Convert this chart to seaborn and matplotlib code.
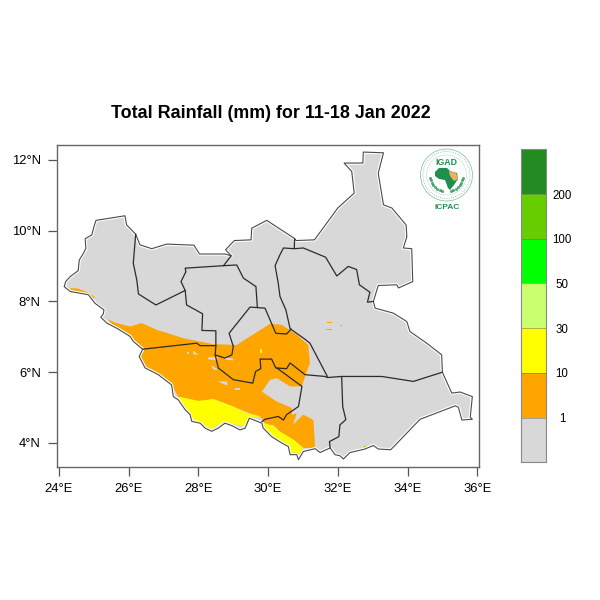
import numpy as np
import matplotlib
matplotlib.use('Agg')
import matplotlib.pyplot as plt
from matplotlib.colors import ListedColormap
from matplotlib.patches import Circle, Polygon
import seaborn as sns

## Rain classes, bottom to top
class_colors = ['#d8d8d8', '#ffa500', '#ffff00', '#caff70', '#00ff00', '#66cd00', '#228b22']
class_labels = ['200', '100', '50', '30', '10', '1']
lon_ticks = [24, 26, 28, 30, 32, 34, 36]
lat_ticks = [4, 6, 8, 10, 12]

## Country outline (lon, lat)
outline = [(24.15,8.42),(24.19,8.56),(24.32,8.70),(24.55,8.87),(24.58,9.17),(24.70,9.36),(24.77,9.50),
    (24.75,9.77),(24.94,9.88),(24.99,10.07),(25.06,10.29),(25.89,10.42),(25.94,10.16),(26.20,9.90),
    (26.32,9.60),(26.66,9.49),(27.09,9.62),(27.87,9.59),(28.03,9.34),(28.76,9.34),(28.94,9.29),
    (28.78,9.46),(29.03,9.72),(29.51,9.74),(29.53,10.07),(29.96,10.29),(30.77,9.77),(30.80,9.72),
    (31.33,9.74),(32.00,10.64),(32.47,11.06),(32.40,11.67),(32.18,11.91),(32.72,11.91),(32.73,12.22),
    (33.31,12.20),(33.16,11.62),(33.31,10.73),(33.55,10.64),(33.96,10.16),(33.98,9.83),(33.88,9.51),
    (34.12,9.49),(34.15,8.56),(33.74,8.38),(33.69,8.47),(33.16,8.45),(33.02,8.00),(33.07,7.81),
    (33.59,7.67),(33.98,7.43),(34.07,7.15),(34.55,6.82),(34.98,6.49),(35.00,6.00),(35.27,5.41),
    (35.51,5.44),(35.86,5.31),(35.80,4.73),(35.86,4.67),(35.56,4.65),(35.46,5.01),(35.37,5.05),
    (34.36,4.67),(33.52,3.81),(33.16,3.83),(33.02,3.93),(32.78,3.83),(32.35,3.73),(32.16,3.55),
    (32.06,3.64),(31.92,3.67),(31.78,3.86),(31.49,3.73),(31.35,3.84),(31.01,3.76),(30.87,3.53),
    (30.82,3.67),(30.63,3.67),(30.58,3.90),(30.39,4.00),(30.10,4.18),(29.86,4.42),(29.82,4.56),
    (29.46,4.70),(29.34,4.42),(29.19,4.37),(28.96,4.49),(28.76,4.56),(28.57,4.42),(28.38,4.33),
    (28.19,4.42),(28.05,4.56),(27.81,4.61),(27.76,4.80),(27.62,4.94),(27.42,5.22),(27.28,5.31),
    (27.23,5.64),(26.85,5.93),(26.47,6.12),(26.30,6.44),(26.40,6.65),(26.13,6.87),(26.04,7.01),
    (25.66,7.24),(25.37,7.39),(25.20,7.55),(25.27,7.65),(25.29,7.76),(25.03,7.95),(24.84,8.19),
    (24.32,8.28)]

## State borders (lon, lat)
borders = [
    [(26.20,9.90),(26.13,9.08),(26.23,8.61),(26.28,8.21),(26.78,7.90),(27.62,8.31)],
    [(27.62,8.31),(27.50,8.56),(27.64,8.84),(27.62,8.94),(28.72,9.01),(28.94,9.29)],
    [(28.72,9.01),(29.10,9.03),(29.29,8.66),(29.65,8.42),(29.69,7.84)],
    [(28.48,6.49),(28.76,6.40),(28.96,6.49),(29.00,6.73),(28.88,7.10),(29.48,7.84),(29.91,7.81),
     (30.22,7.10),(30.53,7.08),(30.66,7.22)],
    [(27.62,8.31),(27.66,7.90),(28.12,7.65),(28.10,7.18),(28.50,7.17),(28.50,6.75),(28.48,6.49),
     (28.57,6.12),(29.00,5.79),(29.56,5.69),(29.64,6.02),(29.79,6.10),(29.77,6.37),(30.10,6.37),
     (30.22,6.12),(30.53,6.10),(30.63,6.26),(31.06,5.93),(31.63,5.88),(31.70,5.85)],
    [(26.40,6.65),(27.95,6.82),(28.05,6.75),(28.50,6.75)],
    [(30.76,9.76),(30.75,9.49),(30.44,9.51),(30.34,9.32),(30.20,9.01),(30.29,8.52),(30.34,8.14),
     (30.51,7.76),(30.63,7.23),(31.06,6.93),(31.20,6.82),(31.70,5.88)],
    [(30.76,9.49),(31.01,9.51),(31.65,9.25),(31.97,8.72),(32.30,8.99),(32.54,8.90),(32.62,8.47),
     (32.92,8.26),(32.85,7.98),(33.02,8.00)],
    [(31.70,5.85),(32.11,5.88),(33.26,5.88),(34.17,5.74),(35.00,6.00)],
    [(32.11,5.88),(32.14,5.03),(32.23,4.66),(32.06,4.51),(32.03,4.18),(31.76,4.04),(31.78,3.86)],
    [(30.25,6.12),(30.97,5.60),(30.87,5.03),(30.53,4.80),(30.44,4.65),(30.29,4.75),(29.91,4.67),(29.82,4.60)],
]

## 1-10 mm areas
orange_main = [(25.39,7.50),(25.61,7.40),(26.04,7.29),(26.37,7.39),(26.80,7.20),(27.57,6.96),(28.43,6.79),
    (29.10,6.77),(29.48,7.01),(30.06,7.37),(30.39,7.34),(30.82,7.06),(31.15,6.77),(31.20,6.26),
    (31.01,5.74),(30.97,5.60),(30.63,5.60),(30.25,5.83),(30.06,5.79),(29.82,5.45),(30.25,5.17),
    (30.68,4.99),(30.68,4.80),(30.82,4.84),(30.71,4.51),(30.87,4.67),(31.01,4.80),(31.30,4.65),(31.35,3.84),
    (31.01,3.86),(30.73,4.09),(30.34,4.32),(30.15,4.51),(29.91,4.51),(29.82,4.70),(29.00,5.03),
    (28.43,5.24),(28.00,5.17),(27.42,5.31),(27.23,5.64),(26.85,5.93),(26.47,6.12),(26.32,6.44),
    (26.42,6.65),(26.13,6.91),(25.89,7.13),(25.56,7.31)]
orange_nw = [(24.32,8.38),(24.55,8.36),(24.84,8.25),(25.03,8.11),(24.94,8.06),(24.79,8.21),(24.51,8.26),(24.34,8.28)]
orange_specks = [
    [(31.68,7.43),(31.83,7.43),(31.83,7.39),(31.68,7.39)],
    [(31.66,7.23),(31.83,7.23),(31.83,7.18),(31.66,7.18)],
    [(32.06,7.34),(32.12,7.34),(32.12,7.31),(32.06,7.31)],
    [(32.75,3.92),(32.82,3.92),(32.80,3.84),(32.75,3.84)],
    [(30.60,3.88),(30.68,3.88),(30.68,3.72),(30.60,3.75)],
    [(30.80,3.80),(30.88,3.80),(30.84,3.62)],
]
## dry holes in the orange area
dry_spots = [
    [(27.85,6.61),(28.00,6.49),(27.85,6.51)],
    [(28.28,6.43),(28.55,6.43),(28.55,6.33),(28.28,6.36)],
    [(28.76,6.42),(29.00,6.38),(29.00,6.33),(28.76,6.36)],
    [(28.35,6.21),(28.57,6.07),(28.43,6.07)],
    [(28.57,5.74),(28.83,5.74),(28.83,5.62),(28.67,5.69)],
    [(29.05,5.55),(29.19,5.55),(29.19,5.50),(29.05,5.50)],
    [(27.68,6.56),(27.74,6.56),(27.74,6.51),(27.68,6.51)],
]
## 10-30 mm areas
yellow_west = [(27.42,5.31),(28.00,5.19),(28.43,5.24),(29.00,5.03),(29.39,4.84),(29.82,4.75),(29.48,4.73),
    (29.34,4.47),(29.00,4.54),(28.76,4.61),(28.52,4.49),(28.38,4.39),(28.19,4.49),(27.86,4.65),
    (27.76,4.84),(27.57,5.08)]
yellow_south = [(29.87,4.57),(30.15,4.48),(30.34,4.32),(30.73,4.09),(31.01,3.86),(30.92,3.70),(30.63,3.75),
    (30.58,3.90),(30.39,4.00),(30.10,4.18),(29.86,4.42)]
yellow_specks = [[(29.78,6.65),(29.82,6.65),(29.82,6.53),(29.78,6.53)]]

africa_shape = [(435,172),(439,168),(447,168),(450,171),(457,173),(458,179),(454,185),(450,190),(448,188),
    (445,180),(439,179),(435,176)]
horn_shape = [(449,171),(456,173),(458,179),(454,181),(450,176)]

sns.set_theme(style='ticks', rc={'axes.edgecolor': '#666666', 'axes.linewidth': 1.0,
                                 'xtick.color': '#555555', 'ytick.color': '#555555'})
plt.rcParams['font.family'] = ['Liberation Sans', 'DejaVu Sans']

PX = 600.0
fig = plt.figure(figsize=(6, 6), dpi=100)
ax = fig.add_axes([57.3/PX, 1-466.7/PX, 422/PX, 321.7/PX])

ax.fill(*zip(*outline), color=class_colors[0], lw=0, zorder=1)
for poly in [orange_main, orange_nw] + orange_specks:
    ax.fill(*zip(*poly), color=class_colors[1], lw=0, zorder=2)
for poly in dry_spots:
    ax.fill(*zip(*poly), color=class_colors[0], lw=0, zorder=3)
for poly in [yellow_west, yellow_south] + yellow_specks:
    ax.fill(*zip(*poly), color=class_colors[2], lw=0, zorder=3)

## white gap the coarse grid leaves along the edge
ring = outline + outline[:1]
ax.plot(*zip(*ring), color='white', lw=2.4, zorder=3.5)
ax.plot(*zip(*ring), color='#4a4a4a', lw=0.8, zorder=4)
for line in borders:
    ax.plot(*zip(*line), color='#2b2b2b', lw=0.9, zorder=5)

ax.set_xlim(23.95, 36.06)
ax.set_ylim(3.33, 12.42)
ax.set_xticks(lon_ticks)
ax.set_xticklabels(['%d°E' % v for v in lon_ticks], color='black', fontsize=9.4)
ax.set_yticks(lat_ticks)
ax.set_yticklabels(['%d°N' % v for v in lat_ticks], color='black', fontsize=9.4)
ax.tick_params(length=6.5, width=0.9, pad=5.5)
ax.grid(False)

fig.text(270.5/PX, 1-113/PX, 'Total Rainfall (mm) for 11-18 Jan 2022', ha='center', va='center',
         fontsize=12.9, fontweight='bold', color='black')

## Colour key
cax = fig.add_axes([520.7/PX, 1-462.3/PX, 25/PX, 313/PX])
key = np.arange(len(class_colors))[::-1].reshape(-1, 1)
sns.heatmap(key, ax=cax, cmap=ListedColormap(class_colors), cbar=False, xticklabels=False,
            linewidths=0, square=False)
cax.hlines(range(1, len(class_colors)), 0, 1, color='#666666', lw=0.5, alpha=0.7)
for s in cax.spines.values():
    s.set_visible(True)
    s.set_color('#888888')
    s.set_linewidth(0.8)
cax.yaxis.tick_right()
cax.set_yticks(range(1, len(class_colors)))
cax.set_yticklabels(class_labels, rotation=0, fontsize=8.3, color='black')
cax.tick_params(axis='y', length=0, pad=11.7)
for lab in cax.get_yticklabels():
    lab.set_ha('center')

## Logo, pixel coordinates of the picture
logo = fig.add_axes([417/PX, 1-217/PX, 60/PX, 70/PX], zorder=6)
logo.set_xlim(417, 477)
logo.set_ylim(217, 147)
logo.axis('off')
logo_green = '#1f8f4e'
logo.add_patch(Circle((446.5, 175), 26, fc='white', ec=logo_green, lw=0.5, alpha=0.6))
logo.add_patch(Circle((446.5, 175), 23.5, fc='none', ec=logo_green, lw=0.6, ls=':', alpha=0.6))
logo.add_patch(Circle((446.5, 175), 20, fc='none', ec=logo_green, lw=0.3, alpha=0.4))
logo.add_patch(Polygon(africa_shape, fc=logo_green, ec='none'))
logo.add_patch(Polygon(horn_shape, fc='#f0b060', ec='none'))
for side in (-1, 1):
    ang = np.radians(np.linspace(10, 75, 8))
    logo.plot(446.5 + side*16.5*np.cos(ang), 175 + 16.5*np.sin(ang), ls='none', marker='o', ms=2.2,
              color=logo_green, alpha=0.75, mew=0)
logo.text(446.5, 162.5, 'IGAD', ha='center', va='center', fontsize=6.3, fontweight='bold', color=logo_green)
logo.text(447, 207.5, 'ICPAC', ha='center', va='center', fontsize=6, fontweight='bold', color=logo_green)

plt.savefig('out.png', dpi=100)
